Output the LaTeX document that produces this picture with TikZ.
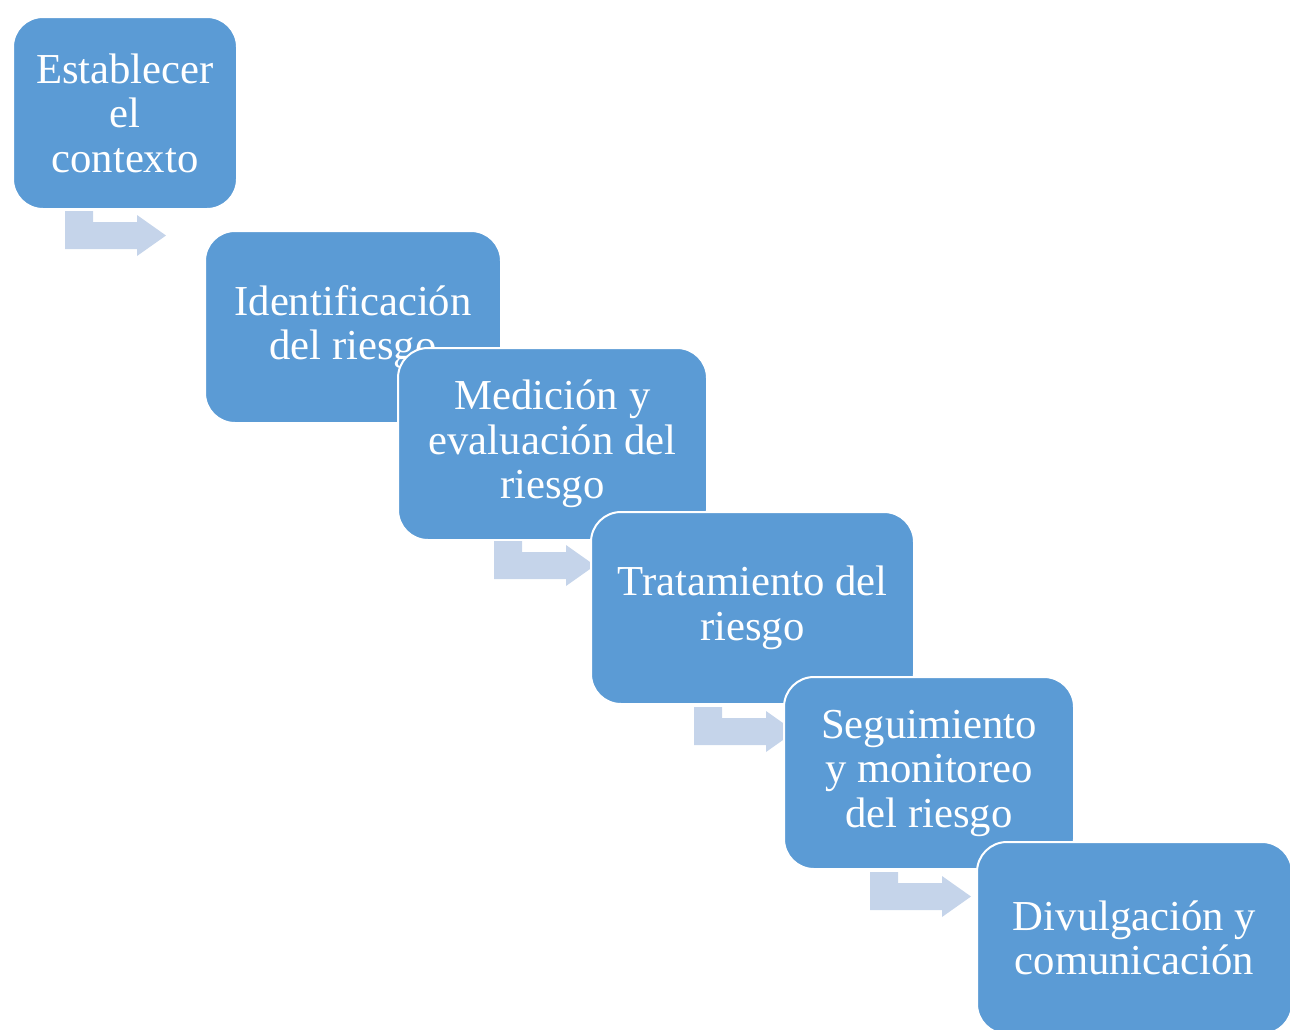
\documentclass[tikz,border=0pt]{standalone}
\usepackage{fontspec}
\setmainfont{Liberation Serif}
\definecolor{boxblue}{HTML}{5B9BD5}
\definecolor{arrowblue}{HTML}{C5D4EA}
\tikzset{
  stepbox/.style={draw=white, line width=2pt, fill=boxblue, rounded corners=30pt,
    anchor=north west, minimum height=192pt, text=white, align=center,
    font=\fontsize{42.7}{44.5}\selectfont, inner sep=0pt},
  arrowfill/.style={fill=arrowblue}
}
\newcommand\bentarr[1]{\fill[arrowfill, shift={(#1)}] (0,0) -- (28,0) -- (28,11) -- (72,11) -- (72,4) -- (101,24.5) -- (72,45) -- (72,38) -- (0,38) -- cycle;}
\begin{document}
\begin{tikzpicture}[x=1pt,y=-1pt]
\useasboundingbox (0,0) rectangle (1290,1029);
\clip (0,0) rectangle (1290,1029);
\node[stepbox, minimum width=224pt] (b1) at (12,16) {Establecer\\el\\contexto};
\coordinate (a1) at (65,211);
\bentarr{a1}
\node[stepbox, minimum width=296pt] (b2) at (204,230) {Identificación\\del riesgo};
\node[stepbox, minimum width=309pt] (b3) at (397,347) {Medición y\\evaluación del\\riesgo};
\coordinate (a3) at (494,541);
\bentarr{a3}
\node[stepbox, minimum width=323pt] (b4) at (590,511) {Tratamiento del\\riesgo};
\coordinate (a4) at (694,707);
\bentarr{a4}
\node[stepbox, minimum width=290pt] (b5) at (783,676) {Seguimiento\\y monitoreo\\del riesgo};
\coordinate (a5) at (870,872);
\bentarr{a5}
\node[stepbox, minimum width=315pt] (b6) at (976,841) {Divulgación y\\comunicación};
\end{tikzpicture}
\end{document}
